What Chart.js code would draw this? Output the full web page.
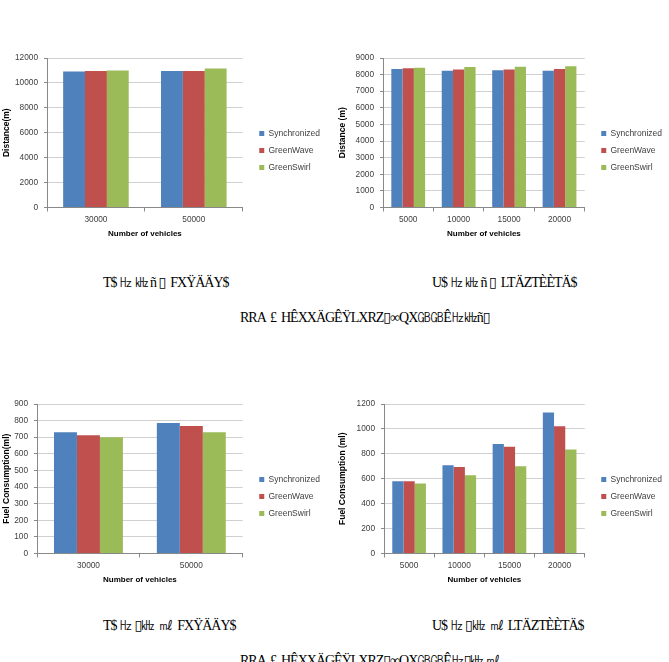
<!DOCTYPE html>
<html>
<head>
<meta charset="utf-8">
<script src="https://cdn.jsdelivr.net/npm/chart.js@4"></script>
<style>
  body { margin: 0; background: #fff; }
  #page { position: relative; width: 669px; height: 662px; overflow: hidden; }
  canvas { position: absolute; }
  .cap { position: absolute; font-family: "Liberation Serif", "DejaVu Serif", serif; font-size: 14px; color: #000; white-space: pre; letter-spacing: -1px; }
</style>
</head>
<body>
<div id="page">
  <canvas id="c1" width="330" height="218" style="left:0;top:40px"></canvas>
  <canvas id="c2" width="336" height="218" style="left:336px;top:40px"></canvas>
  <canvas id="c3" width="330" height="199" style="left:0;top:390px"></canvas>
  <canvas id="c4" width="336" height="199" style="left:336px;top:390px"></canvas>

  <div class="cap" style="left:103px;top:274px">T$ ㎐ ㎑ ñ ▯  FXŸÄÄY$</div>
  <div class="cap" style="left:432px;top:274px">U$ ㎐ ㎑ ñ ▯  LTÄZTÈÈTÄ$</div>
  <div class="cap" style="left:240px;top:309px">RRA  £  HÊXXÄGÊŸLXRZ▯∞QX㎇㎇Ê㎐㎑ñ▯</div>
  <div class="cap" style="left:103px;top:617px">T$ ㎐ ▯㎑  ㎖  FXŸÄÄY$</div>
  <div class="cap" style="left:432px;top:617px">U$ ㎐ ▯㎑  ㎖  LTÄZTÈÈTÄ$</div>
  <div class="cap" style="left:240px;top:652px">RRA  £  HÊXXÄGÊŸLXRZ▯∞QX㎇㎇Ê㎐▯㎑ ㎖</div>
</div>
<script>
// series names
let names = ["Synchronized", "GreenWave", "GreenSwirl"];
let colors = ["#4f81bd", "#c0504d", "#9bbb59"];

// (a) distance, 30000 / 50000 vehicles
let distLabelsA = ["30000", "50000"];
let distSyncA = [10920, 10950];
let distWaveA = [10950, 10950];
let distSwirlA = [11000, 11150];

// (b) distance, 5000..20000 vehicles
let distLabelsB = ["5000", "10000", "15000", "20000"];
let distSyncB = [8330, 8230, 8260, 8230];
let distWaveB = [8390, 8300, 8310, 8330];
let distSwirlB = [8420, 8460, 8470, 8500];

// (a) fuel
let fuelLabelsA = ["30000", "50000"];
let fuelSyncA = [730, 785];
let fuelWaveA = [712, 768];
let fuelSwirlA = [700, 730];

// (b) fuel
let fuelLabelsB = ["5000", "10000", "15000", "20000"];
let fuelSyncB = [580, 708, 878, 1132];
let fuelWaveB = [580, 695, 857, 1022];
let fuelSwirlB = [562, 627, 700, 835];

const font = "'Liberation Sans', Arial, sans-serif";

function makeChart(id, labels, series, yMax, yStep, yTitle, opt) {
  let datasets = series.map((d, i) => ({
    label: names[i],
    data: d,
    backgroundColor: colors[i],
    borderWidth: 0,
    categoryPercentage: 0.67,
    barPercentage: 1,
  }));

  new Chart(document.getElementById(id), {
    type: "bar",
    data: { labels: labels, datasets: datasets },
    options: {
      responsive: false,
      animation: false,
      layout: { padding: { top: opt.top, right: opt.right, bottom: opt.bottom, left: 0 } },
      plugins: {
        tooltip: { enabled: false },
        legend: {
          position: "right",
          labels: {
            boxWidth: 5,
            boxHeight: 5,
            padding: 8.5,
            color: "#404040",
            font: { family: font, size: 8.5 },
          },
        },
      },
      scales: {
        x: {
          grid: {
            offset: true,
            drawOnChartArea: false,
            tickLength: 4,
            color: "#888",
          },
          border: { color: "#888" },
          ticks: { color: "#404040", padding: 3, font: { family: font, size: 8.3 } },
          title: {
            display: true,
            text: "Number of vehicles",
            color: "#000",
            padding: { top: 2, bottom: 4 },
            font: { family: font, size: 8, weight: "bold" },
          },
        },
        y: {
          min: 0,
          max: yMax,
          grid: { color: "#d0d0d0", tickColor: "#888", tickLength: 3 },
          border: { color: "#888" },
          ticks: {
            stepSize: yStep,
            color: "#404040",
            padding: 6,
            font: { family: font, size: 8.3 },
            callback: (v) => String(v),
          },
          title: {
            display: true,
            text: yTitle,
            color: "#000",
            padding: { top: 2, bottom: 2 },
            font: { family: font, size: 8.5, weight: "bold" },
          },
          afterFit: (s) => { s.width = opt.yw; },
        },
        // hidden spacer between plot and legend
        pad: {
          position: "right",
          display: false,
          afterFit: (s) => { s.width = 8; },
        },
      },
    },
  });
}

makeChart("c1", distLabelsA, [distSyncA, distWaveA, distSwirlA], 12000, 2000, "Distance(m)",
  { yw: 47, top: 18, right: 0, bottom: 15 });
makeChart("c2", distLabelsB, [distSyncB, distWaveB, distSwirlB], 9000, 1000, "Distance (m)",
  { yw: 47, top: 18, right: 0, bottom: 15 });
makeChart("c3", fuelLabelsA, [fuelSyncA, fuelWaveA, fuelSwirlA], 900, 100, "Fuel Consumption(ml)",
  { yw: 37, top: 14, right: 0, bottom: 0 });
makeChart("c4", fuelLabelsB, [fuelSyncB, fuelWaveB, fuelSwirlB], 1200, 200, "Fuel Consumption (ml)",
  { yw: 48, top: 14, right: 0, bottom: 0 });
</script>
</body>
</html>
